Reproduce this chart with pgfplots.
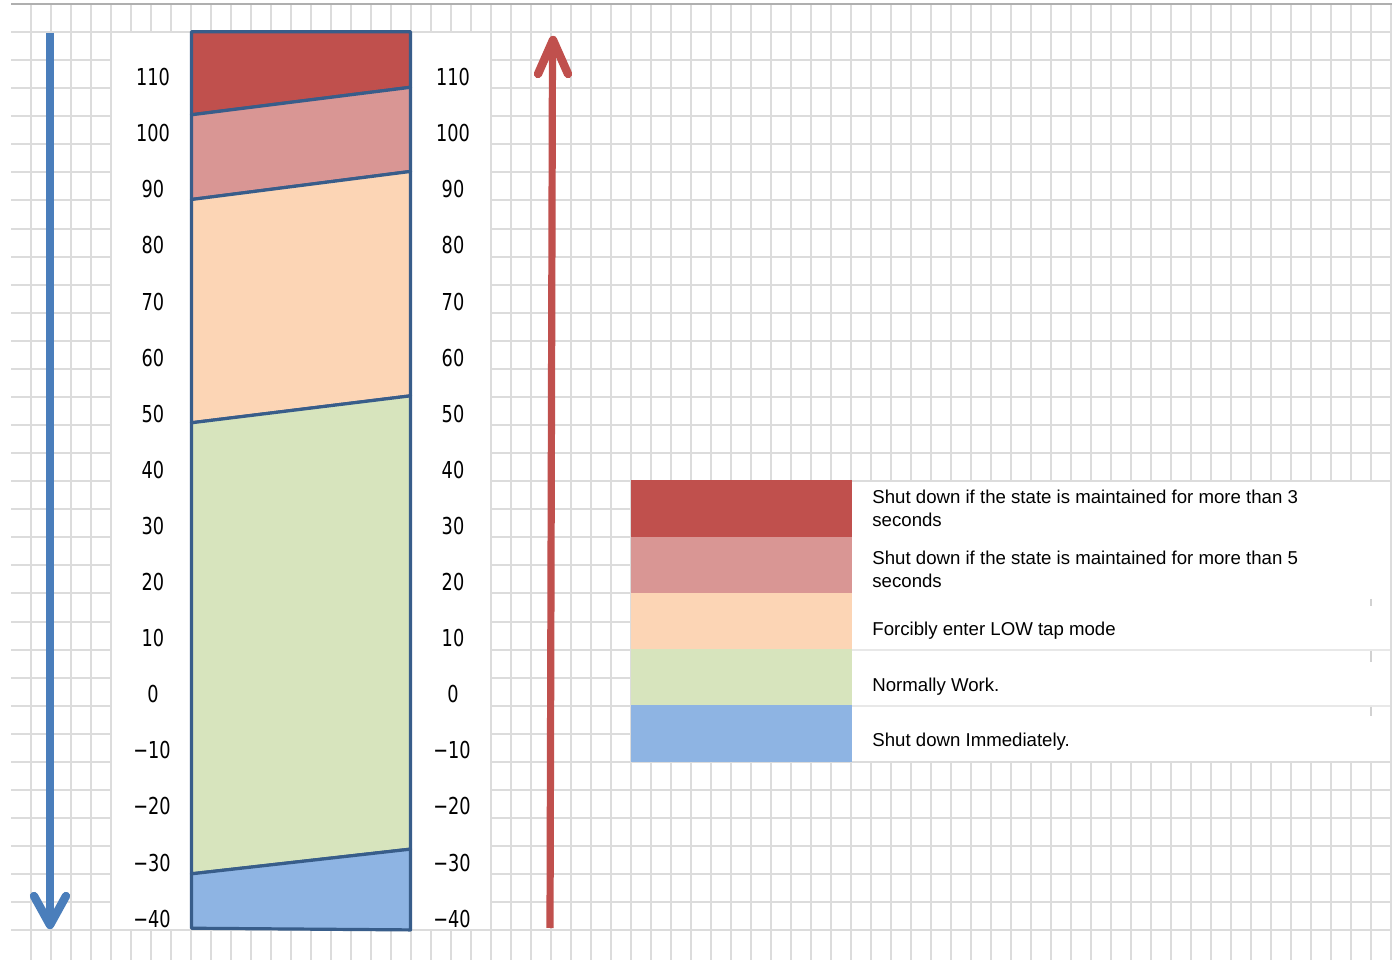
\documentclass[border=0pt]{standalone}
\usepackage{pgfplots}
\pgfplotsset{compat=1.18}
\usepackage{fontspec}
\setmainfont{Liberation Sans}
\newfontfamily\tickfont[FakeStretch=0.76]{DejaVu Sans}
\definecolor{cRed}{RGB}{192,80,77}
\definecolor{cPink}{RGB}{217,150,148}
\definecolor{cPeach}{RGB}{252,213,181}
\definecolor{cGreen}{RGB}{215,228,189}
\definecolor{cBlue}{RGB}{142,180,227}
\definecolor{cBorder}{RGB}{56,93,138}
\definecolor{cArrowBlue}{RGB}{74,126,187}
\definecolor{cGrid}{RGB}{220,220,220}
\definecolor{cTop}{RGB}{175,175,175}
\newcommand\PY[1]{{(694.3-(#1))/5.61}}
\begin{document}
\begin{tikzpicture}
\begin{axis}[width=696bp,height=480bp,scale only axis,hide axis,
  xmin=0,xmax=1392,ymin=-47.362,ymax=123.761,clip=true]
% full-size invisible frame (keeps the page the size of the axis)
\path (rel axis cs:0,0) rectangle (rel axis cs:1,1);
% background grid
\pgfplotsinvokeforeach{31,51,...,1391}{\draw[cGrid,line width=1bp] (axis cs:#1,\PY{4}) -- (axis cs:#1,\PY{960});}
\pgfplotsinvokeforeach{1,...,33}{\draw[cGrid,line width=1bp] (axis cs:11,\PY{4+28.07*#1}) -- (axis cs:1392,\PY{4+28.07*#1});}
\draw[cTop,line width=1bp] (axis cs:11,\PY{4}) -- (axis cs:1392,\PY{4});
% white areas
\fill[white] (axis cs:112,\PY{33}) rectangle (axis cs:490,\PY{929.5});
\fill[white] (axis cs:632,\PY{482}) rectangle (axis cs:1390,\PY{761});
% column bands
\addplot[fill=cRed,draw=cBorder,line width=1.6bp,line join=round] coordinates {(191.5,103.3) (410.5,108.2) (410.5,118.1) (191.5,118.1)} -- cycle;
\addplot[fill=cPink,draw=cBorder,line width=1.6bp,line join=round] coordinates {(191.5,88.2) (410.5,93.2) (410.5,108.2) (191.5,103.3)} -- cycle;
\addplot[fill=cPeach,draw=cBorder,line width=1.6bp,line join=round] coordinates {(191.5,48.4) (410.5,53.2) (410.5,93.2) (191.5,88.2)} -- cycle;
\addplot[fill=cGreen,draw=cBorder,line width=1.6bp,line join=round] coordinates {(191.5,-32) (410.5,-27.6) (410.5,53.2) (191.5,48.4)} -- cycle;
\addplot[fill=cBlue,draw=cBorder,line width=1.6bp,line join=round] coordinates {(191.5,-41.7) (410.5,-42) (410.5,-27.6) (191.5,-32)} -- cycle;
% arrows
\draw[cArrowBlue,line width=3.6bp] (axis cs:50,\PY{33}) -- (axis cs:50,\PY{920});
\draw[cArrowBlue,line width=4.2bp,line cap=round,line join=round] (axis cs:34,\PY{896}) -- (axis cs:50,\PY{925}) -- (axis cs:66,\PY{896});
\draw[cRed,line width=3.6bp] (axis cs:550,\PY{928}) -- (axis cs:552.5,\PY{42});
\draw[cRed,line width=4.2bp,line cap=round,line join=round] (axis cs:538,\PY{74}) -- (axis cs:553,\PY{40}) -- (axis cs:568,\PY{74});
% tick labels
\addplot[draw=none,mark=none,nodes near coords,point meta=explicit symbolic,
  every node near coord/.append style={anchor=center,inner sep=0pt,text=black,font=\tickfont\fontsize{11.7}{12}\selectfont}]
  table[meta=label] {
x y label
153 110 110
153 100 100
153 90 90
153 80 80
153 70 70
153 60 60
153 50 50
153 40 40
153 30 30
153 20 20
153 10 10
153 0 0
152 -10 −10
152 -20 −20
152 -30 −30
152 -40 −40
453 110 110
453 100 100
453 90 90
453 80 80
453 70 70
453 60 60
453 50 50
453 40 40
453 30 30
453 20 20
453 10 10
453 0 0
452 -10 −10
452 -20 −20
452 -30 −30
452 -40 −40
};
% legend
\fill[cRed] (axis cs:631,\PY{480}) rectangle (axis cs:852,\PY{537});
\fill[cPink] (axis cs:631,\PY{537}) rectangle (axis cs:852,\PY{593});
\fill[cPeach] (axis cs:631,\PY{593}) rectangle (axis cs:852,\PY{649});
\fill[cGreen] (axis cs:631,\PY{649}) rectangle (axis cs:852,\PY{705});
\fill[cBlue] (axis cs:631,\PY{705}) rectangle (axis cs:852,\PY{762});
\draw[black!9,line width=0.8bp] (axis cs:852,\PY{650}) -- (axis cs:1390,\PY{650});
\draw[black!9,line width=0.8bp] (axis cs:852,\PY{706}) -- (axis cs:1390,\PY{706});
\draw[black!18,line width=0.8bp] (axis cs:1371,\PY{599}) -- (axis cs:1371,\PY{606});
\draw[black!18,line width=0.8bp] (axis cs:1371,\PY{651}) -- (axis cs:1371,\PY{662});
\draw[black!18,line width=0.8bp] (axis cs:1371,\PY{707}) -- (axis cs:1371,\PY{716});
\begin{scope}[every node/.style={anchor=base west,inner sep=0pt,font=\fontsize{9.35}{11}\selectfont}]
\node at (axis cs:872,\PY{504}) {Shut down if the state is maintained for more than 3};
\node at (axis cs:872,\PY{527}) {seconds};
\node at (axis cs:872,\PY{565}) {Shut down if the state is maintained for more than 5};
\node at (axis cs:872,\PY{588}) {seconds};
\node at (axis cs:872,\PY{636}) {Forcibly enter LOW tap mode};
\node at (axis cs:872,\PY{692}) {Normally Work.};
\node at (axis cs:872,\PY{747}) {Shut down Immediately.};
\end{scope}
\end{axis}
\end{tikzpicture}
\end{document}
